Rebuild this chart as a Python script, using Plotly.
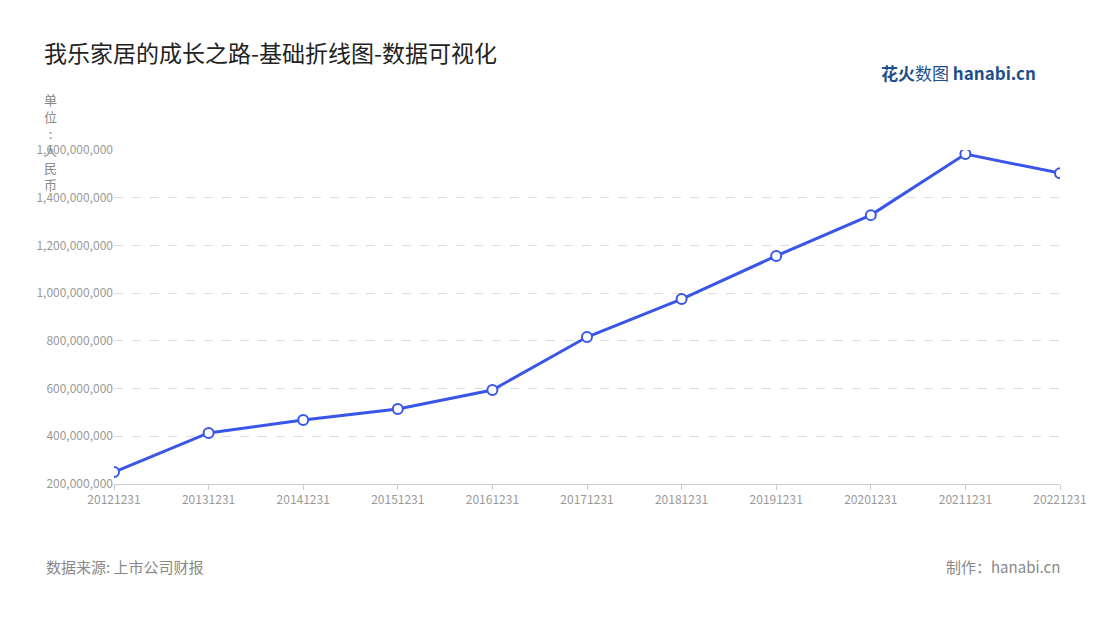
import plotly.graph_objects as go

years = ["20121231", "20131231", "20141231", "20151231", "20161231", "20171231",
         "20181231", "20191231", "20201231", "20211231", "20221231"]
revenue = [250e6, 414e6, 468e6, 514e6, 594e6, 816e6, 975e6, 1156e6, 1327e6, 1583e6, 1503e6]
y_ticks = [200e6, 400e6, 600e6, 800e6, 1000e6, 1200e6, 1400e6, 1600e6]

font = "Noto Sans CJK SC"
# plot area in page pixels (the page has an ~8px offset)
L, R, T, B = 106, 1052, 142, 476
W, H = R - L, B - T

fig = go.Figure(go.Scatter(
    x=years, y=revenue, mode="lines+markers",
    line=dict(color="#3a56e8", width=3),
    marker=dict(size=10, color="white", line=dict(color="#3a56e8", width=2)),
))

fig.update_layout(
    width=1100, height=620, plot_bgcolor="white", paper_bgcolor="white",
    margin=dict(l=L, r=1100 - R, t=T, b=620 - B),
    font=dict(family=font, color="#999"),
    showlegend=False,
    title=dict(text="我乐家居的成长之路-基础折线图-数据可视化", x=36 / 1100, y=1 - 46 / 620,
               xanchor="left", yanchor="middle", font=dict(size=23, color="#222", family=font)),
)
fig.update_xaxes(type="category", showgrid=False, showline=True, linecolor="#ccc",
                 ticks="outside", tickcolor="#ccc", ticklen=5,
                 tickfont=dict(size=12, color="#999"), range=[0, 10])
fig.update_yaxes(range=[200e6, 1600e6], tickvals=y_ticks, tickformat=",.0f",
                 showgrid=True, gridcolor="#ddd", griddash="dash", zeroline=False,
                 tickfont=dict(size=12, color="#999"))


def px(x, y):
    return (x - 8 - L) / W, 1 - (y - 8 - T) / H


ux, uy = px(50, 88)
fig.add_annotation(text="单<br>位<br>:<br>人<br>民<br>币", x=ux, y=uy, xref="paper", yref="paper",
                   showarrow=False, xanchor="center", yanchor="top",
                   font=dict(size=13, color="#888"))
sx, sy = px(44, 566)
fig.add_annotation(text="数据来源: 上市公司财报", x=sx, y=sy,
                   xref="paper", yref="paper", showarrow=False, xanchor="left", yanchor="middle",
                   font=dict(size=15, color="#888"))
mx, my = px(1062, 566)
fig.add_annotation(text="制作：hanabi.cn", x=mx, y=my,
                   xref="paper", yref="paper", showarrow=False, xanchor="right", yanchor="middle",
                   font=dict(size=15, color="#888"))
lx, ly = px(1038, 72)
fig.add_annotation(text="<b>花火</b>数图 <b>hanabi.cn</b>", x=lx, y=ly,
                   xref="paper", yref="paper", showarrow=False,
                   xanchor="right", yanchor="middle", font=dict(size=17, color="#1f4e8c"))

fig.write_html("out.html")
